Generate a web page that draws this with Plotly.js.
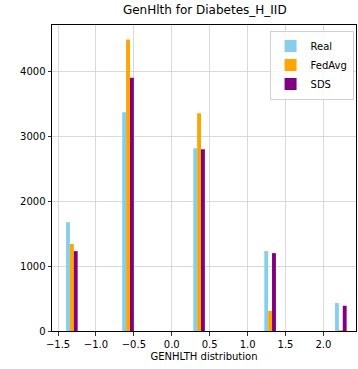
<!DOCTYPE html>
<html>
<head>
<meta charset="utf-8">
<script src="https://cdn.plot.ly/plotly-3.0.1.min.js"></script>
<style>
  html, body { margin: 0; padding: 0; background: #fff; }
  #chart { width: 358px; height: 369px; }
</style>
</head>
<body>
<div id="chart"></div>
<script>
// Histogram bin centres of the standardised GENHLTH feature
const binCenters = [-1.318, -0.577, 0.36, 1.297, 2.23];

// Counts per bin for each data source
const realCounts   = [1677, 3369, 2815, 1231, 431];
const fedAvgCounts = [1340, 4490, 3354, 308, 15];
const sdsCounts    = [1231, 3903, 2800, 1200, 389];

const seriesNames  = ['Real', 'FedAvg', 'SDS'];
const seriesColors = ['#87ceeb', '#ffa500', '#800080'];
const seriesValues = [realCounts, fedAvgCounts, sdsCounts];

const xTickVals = [-1.5, -1.0, -0.5, 0.0, 0.5, 1.0, 1.5, 2.0];
const yTickVals = [0, 1000, 2000, 3000, 4000];

// side-by-side bars inside each bin
const barWidth = 0.051;
const traces = seriesNames.map((name, i) => ({
  type: 'bar',
  name: name,
  x: binCenters,
  y: seriesValues[i],
  width: barWidth,
  offset: -1.5 * barWidth + i * barWidth,
  marker: { color: seriesColors[i], line: { width: 0 } },
  hoverinfo: 'x+y+name'
}));

const font = { family: 'DejaVu Sans, sans-serif', size: 10, color: '#000' };

const layout = {
  width: 358,
  height: 369,
  margin: { l: 52, r: 2, t: 24.5, b: 38 },
  paper_bgcolor: '#fff',
  plot_bgcolor: '#fff',
  font: font,
  barmode: 'overlay',
  showlegend: true,
  title: {
    text: 'GenHlth for Diabetes_H_IID',
    font: { family: 'DejaVu Sans, sans-serif', size: 12, color: '#000' },
    x: 0.572, xanchor: 'center',
    y: 0.985, yanchor: 'top'
  },
  xaxis: {
    range: [-1.58, 2.43],
    tickvals: xTickVals,
    ticktext: xTickVals.map(v => v.toFixed(1).replace('-', '\u2212')),
    ticks: 'outside', ticklen: 3.5, tickwidth: 0.8, tickcolor: '#000',
    showgrid: true, gridcolor: '#cfcfcf', gridwidth: 0.8,
    zeroline: false,
    showline: true, linecolor: '#000', linewidth: 1, mirror: true,
    tickfont: font,
    title: { text: 'GENHLTH distribution', font: font, standoff: 4 }
  },
  yaxis: {
    range: [0, 4715],
    tickvals: yTickVals,
    ticks: 'outside', ticklen: 3.5, tickwidth: 0.8, tickcolor: '#000',
    showgrid: true, gridcolor: '#cfcfcf', gridwidth: 0.8,
    zeroline: false,
    showline: true, linecolor: '#000', linewidth: 1, mirror: true,
    tickfont: font
  },
  legend: {
    x: 0.992, xanchor: 'right',
    y: 0.982, yanchor: 'top',
    bgcolor: 'rgba(255,255,255,0.8)',
    bordercolor: '#d0d0d0', borderwidth: 1,
    font: { family: 'DejaVu Sans, sans-serif', size: 10, color: '#000' },
    tracegroupgap: 0,
    itemwidth: 30
  }
};

Plotly.newPlot('chart', traces, layout, { displayModeBar: false, staticPlot: true });
</script>
</body>
</html>
